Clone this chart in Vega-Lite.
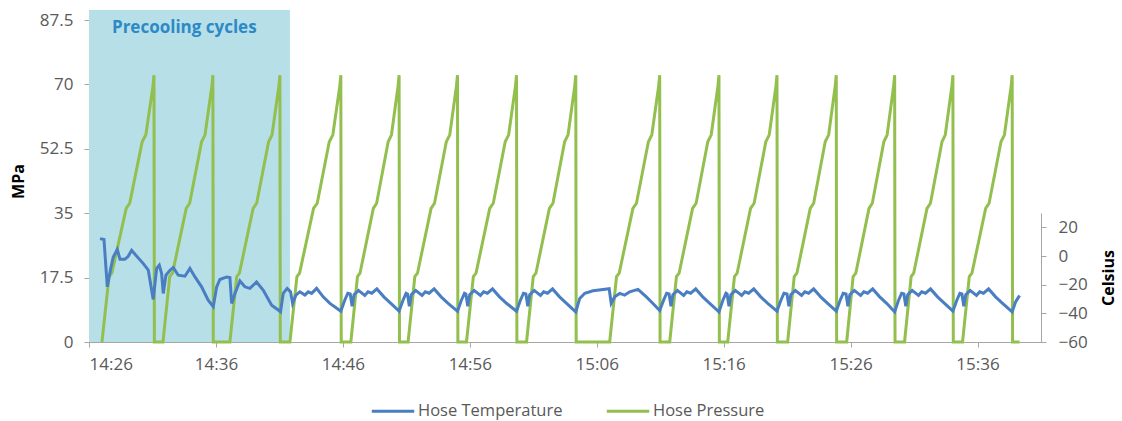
{
  "$schema": "https://vega.github.io/schema/vega-lite/v6.json",
  "width": 952,
  "height": 322,
  "autosize": {"type": "none"},
  "padding": {"left": 89, "top": 20, "right": 81, "bottom": 79},
  "config": {
    "view": {"stroke": null},
    "font": "Open Sans",
    "axis": {
      "grid": false,
      "domainColor": "#A6A6A6",
      "tickColor": "#A6A6A6",
      "labelColor": "#595959",
      "labelFontSize": 17,
      "labelFont": "Open Sans",
      "titleFont": "Open Sans",
      "titleFontSize": 16,
      "titleFontWeight": "bold",
      "titleColor": "#000000",
      "tickSize": 5
    }
  },
  "datasets": {
    "shade": [
      {"start": 26, "end": 41.83, "top": 90.2, "bottom": 0, "label": "Precooling cycles", "lx": 27.81, "ly": 85.3}
    ],
    "pressure": [
      {"minute": 27.02, "mpa": 0}, {"minute": 27.58, "mpa": 17.8}, {"minute": 27.80, "mpa": 18.7}, {"minute": 28.93, "mpa": 36.3}, {"minute": 29.21, "mpa": 37.7}, {"minute": 30.19, "mpa": 54.4}, {"minute": 30.48, "mpa": 56.3}, {"minute": 31.04, "mpa": 69.6}, {"minute": 31.12, "mpa": 72.5}, {"minute": 31.15, "mpa": 0},
      {"minute": 31.83, "mpa": 0}, {"minute": 32.36, "mpa": 17.8}, {"minute": 32.58, "mpa": 18.7}, {"minute": 33.66, "mpa": 36.3}, {"minute": 33.93, "mpa": 37.7}, {"minute": 34.87, "mpa": 54.4}, {"minute": 35.14, "mpa": 56.3}, {"minute": 35.68, "mpa": 69.6}, {"minute": 35.76, "mpa": 72.5}, {"minute": 35.79, "mpa": 0},
      {"minute": 37.10, "mpa": 0}, {"minute": 37.64, "mpa": 17.8}, {"minute": 37.85, "mpa": 18.7}, {"minute": 38.93, "mpa": 36.3}, {"minute": 39.21, "mpa": 37.7}, {"minute": 40.15, "mpa": 54.4}, {"minute": 40.42, "mpa": 56.3}, {"minute": 40.96, "mpa": 69.6}, {"minute": 41.04, "mpa": 72.5}, {"minute": 41.07, "mpa": 0},
      {"minute": 41.83, "mpa": 0}, {"minute": 42.38, "mpa": 17.8}, {"minute": 42.59, "mpa": 18.7}, {"minute": 43.69, "mpa": 36.3}, {"minute": 43.98, "mpa": 37.7}, {"minute": 44.93, "mpa": 54.4}, {"minute": 45.21, "mpa": 56.3}, {"minute": 45.76, "mpa": 69.6}, {"minute": 45.84, "mpa": 72.5}, {"minute": 45.87, "mpa": 0},
      {"minute": 46.63, "mpa": 0}, {"minute": 47.15, "mpa": 17.8}, {"minute": 47.35, "mpa": 18.7}, {"minute": 48.40, "mpa": 36.3}, {"minute": 48.66, "mpa": 37.7}, {"minute": 49.57, "mpa": 54.4}, {"minute": 49.83, "mpa": 56.3}, {"minute": 50.35, "mpa": 69.6}, {"minute": 50.43, "mpa": 72.5}, {"minute": 50.46, "mpa": 0},
      {"minute": 51.14, "mpa": 0}, {"minute": 51.67, "mpa": 17.8}, {"minute": 51.88, "mpa": 18.7}, {"minute": 52.95, "mpa": 36.3}, {"minute": 53.22, "mpa": 37.7}, {"minute": 54.15, "mpa": 54.4}, {"minute": 54.42, "mpa": 56.3}, {"minute": 54.95, "mpa": 69.6}, {"minute": 55.03, "mpa": 72.5}, {"minute": 55.06, "mpa": 0},
      {"minute": 55.74, "mpa": 0}, {"minute": 56.28, "mpa": 17.8}, {"minute": 56.49, "mpa": 18.7}, {"minute": 57.57, "mpa": 36.3}, {"minute": 57.85, "mpa": 37.7}, {"minute": 58.79, "mpa": 54.4}, {"minute": 59.06, "mpa": 56.3}, {"minute": 59.60, "mpa": 69.6}, {"minute": 59.68, "mpa": 72.5}, {"minute": 59.71, "mpa": 0},
      {"minute": 60.47, "mpa": 0}, {"minute": 61.00, "mpa": 17.8}, {"minute": 61.21, "mpa": 18.7}, {"minute": 62.27, "mpa": 36.3}, {"minute": 62.55, "mpa": 37.7}, {"minute": 63.47, "mpa": 54.4}, {"minute": 63.74, "mpa": 56.3}, {"minute": 64.27, "mpa": 69.6}, {"minute": 64.35, "mpa": 72.5}, {"minute": 64.38, "mpa": 0},
      {"minute": 67.02, "mpa": 0}, {"minute": 67.56, "mpa": 17.8}, {"minute": 67.77, "mpa": 18.7}, {"minute": 68.85, "mpa": 36.3}, {"minute": 69.13, "mpa": 37.7}, {"minute": 70.07, "mpa": 54.4}, {"minute": 70.34, "mpa": 56.3}, {"minute": 70.88, "mpa": 69.6}, {"minute": 70.96, "mpa": 72.5}, {"minute": 70.99, "mpa": 0},
      {"minute": 71.75, "mpa": 0}, {"minute": 72.28, "mpa": 17.8}, {"minute": 72.49, "mpa": 18.7}, {"minute": 73.55, "mpa": 36.3}, {"minute": 73.83, "mpa": 37.7}, {"minute": 74.75, "mpa": 54.4}, {"minute": 75.02, "mpa": 56.3}, {"minute": 75.55, "mpa": 69.6}, {"minute": 75.63, "mpa": 72.5}, {"minute": 75.66, "mpa": 0},
      {"minute": 76.32, "mpa": 0}, {"minute": 76.85, "mpa": 17.8}, {"minute": 77.06, "mpa": 18.7}, {"minute": 78.12, "mpa": 36.3}, {"minute": 78.40, "mpa": 37.7}, {"minute": 79.32, "mpa": 54.4}, {"minute": 79.59, "mpa": 56.3}, {"minute": 80.12, "mpa": 69.6}, {"minute": 80.20, "mpa": 72.5}, {"minute": 80.23, "mpa": 0},
      {"minute": 81.04, "mpa": 0}, {"minute": 81.56, "mpa": 17.8}, {"minute": 81.77, "mpa": 18.7}, {"minute": 82.82, "mpa": 36.3}, {"minute": 83.09, "mpa": 37.7}, {"minute": 84.00, "mpa": 54.4}, {"minute": 84.27, "mpa": 56.3}, {"minute": 84.79, "mpa": 69.6}, {"minute": 84.87, "mpa": 72.5}, {"minute": 84.90, "mpa": 0},
      {"minute": 85.69, "mpa": 0}, {"minute": 86.20, "mpa": 17.8}, {"minute": 86.41, "mpa": 18.7}, {"minute": 87.45, "mpa": 36.3}, {"minute": 87.71, "mpa": 37.7}, {"minute": 88.62, "mpa": 54.4}, {"minute": 88.88, "mpa": 56.3}, {"minute": 89.39, "mpa": 69.6}, {"minute": 89.47, "mpa": 72.5}, {"minute": 89.50, "mpa": 0},
      {"minute": 90.25, "mpa": 0}, {"minute": 90.77, "mpa": 17.8}, {"minute": 90.97, "mpa": 18.7}, {"minute": 92.02, "mpa": 36.3}, {"minute": 92.29, "mpa": 37.7}, {"minute": 93.20, "mpa": 54.4}, {"minute": 93.46, "mpa": 56.3}, {"minute": 93.98, "mpa": 69.6}, {"minute": 94.06, "mpa": 72.5}, {"minute": 94.09, "mpa": 0},
      {"minute": 94.82, "mpa": 0}, {"minute": 95.35, "mpa": 17.8}, {"minute": 95.56, "mpa": 18.7}, {"minute": 96.64, "mpa": 36.3}, {"minute": 96.91, "mpa": 37.7}, {"minute": 97.85, "mpa": 54.4}, {"minute": 98.12, "mpa": 56.3}, {"minute": 98.65, "mpa": 69.6}, {"minute": 98.73, "mpa": 72.5}, {"minute": 98.76, "mpa": 0},
      {"minute": 99.31, "mpa": 0}
    ],
    "temperature": [
      {"minute": 26.87, "celsius": 12.1}, {"minute": 27.18, "celsius": 11.5}, {"minute": 27.44, "celsius": -21.5}, {"minute": 27.71, "celsius": -8.7}, {"minute": 27.91, "celsius": -0.7}, {"minute": 28.23, "celsius": 4.5}, {"minute": 28.44, "celsius": -2.3}, {"minute": 28.83, "celsius": -2.3}, {"minute": 29.09, "celsius": -0.2}, {"minute": 29.36, "celsius": 4.0}, {"minute": 29.76, "celsius": -0.2}, {"minute": 30.28, "celsius": -5.3}, {"minute": 30.67, "celsius": -9.9}, {"minute": 31.06, "celsius": -30.3},
      {"minute": 31.33, "celsius": -8.7}, {"minute": 31.54, "celsius": -6.4}, {"minute": 31.72, "celsius": -12.2}, {"minute": 31.85, "celsius": -26.1}, {"minute": 32.06, "celsius": -13.4}, {"minute": 32.38, "celsius": -9.9}, {"minute": 32.64, "celsius": -8}, {"minute": 33.03, "celsius": -13.4}, {"minute": 33.56, "celsius": -14.1}, {"minute": 33.95, "celsius": -8.7}, {"minute": 34.35, "celsius": -14.6}, {"minute": 34.87, "celsius": -21.5}, {"minute": 35.39, "celsius": -30.8}, {"minute": 35.79, "celsius": -35.4},
      {"minute": 36.06, "celsius": -21.5}, {"minute": 36.31, "celsius": -16.4}, {"minute": 36.84, "celsius": -14.6}, {"minute": 37.10, "celsius": -15.0}, {"minute": 37.24, "celsius": -33.1}, {"minute": 37.50, "celsius": -26.1}, {"minute": 37.89, "celsius": -17.4}, {"minute": 38.28, "celsius": -21.5}, {"minute": 38.68, "celsius": -22.6}, {"minute": 39.20, "celsius": -18.1}, {"minute": 39.72, "celsius": -23.8}, {"minute": 40.39, "celsius": -34.3}, {"minute": 40.91, "celsius": -37.7}, {"minute": 41.09, "celsius": -38.9},
      {"minute": 41.30, "celsius": -26.1}, {"minute": 41.61, "celsius": -22.6}, {"minute": 41.88, "celsius": -25}, {"minute": 42.04, "celsius": -33.1}, {"minute": 42.30, "celsius": -27.3}, {"minute": 42.61, "celsius": -25}, {"minute": 43.01, "celsius": -27.3}, {"minute": 43.27, "celsius": -25}, {"minute": 43.54, "celsius": -26.1}, {"minute": 43.93, "celsius": -22.6}, {"minute": 44.45, "celsius": -28.5}, {"minute": 44.98, "celsius": -33.1}, {"minute": 45.71, "celsius": -37.7}, {"minute": 45.84, "celsius": -38.5},
      {"minute": 46.14, "celsius": -31}, {"minute": 46.39, "celsius": -26}, {"minute": 46.58, "celsius": -26.5}, {"minute": 46.73, "celsius": -35}, {"minute": 46.88, "celsius": -27}, {"minute": 47.23, "celsius": -24}, {"minute": 47.73, "celsius": -27.5}, {"minute": 47.98, "celsius": -25}, {"minute": 48.28, "celsius": -26}, {"minute": 48.68, "celsius": -23}, {"minute": 49.23, "celsius": -28.5}, {"minute": 49.78, "celsius": -33}, {"minute": 50.43, "celsius": -38.5},
      {"minute": 50.73, "celsius": -31}, {"minute": 50.98, "celsius": -26}, {"minute": 51.09, "celsius": -26.5}, {"minute": 51.24, "celsius": -35}, {"minute": 51.39, "celsius": -27}, {"minute": 51.74, "celsius": -24}, {"minute": 52.24, "celsius": -27.5}, {"minute": 52.49, "celsius": -25}, {"minute": 52.79, "celsius": -26}, {"minute": 53.19, "celsius": -23}, {"minute": 53.74, "celsius": -28.5}, {"minute": 54.29, "celsius": -33}, {"minute": 55.03, "celsius": -38.5},
      {"minute": 55.33, "celsius": -31}, {"minute": 55.58, "celsius": -26}, {"minute": 55.69, "celsius": -26.5}, {"minute": 55.84, "celsius": -35}, {"minute": 55.99, "celsius": -27}, {"minute": 56.34, "celsius": -24}, {"minute": 56.84, "celsius": -27.5}, {"minute": 57.09, "celsius": -25}, {"minute": 57.39, "celsius": -26}, {"minute": 57.79, "celsius": -23}, {"minute": 58.34, "celsius": -28.5}, {"minute": 58.89, "celsius": -33}, {"minute": 59.68, "celsius": -38.5},
      {"minute": 59.98, "celsius": -31}, {"minute": 60.23, "celsius": -26}, {"minute": 60.42, "celsius": -26.5}, {"minute": 60.57, "celsius": -35}, {"minute": 60.72, "celsius": -27}, {"minute": 61.07, "celsius": -24}, {"minute": 61.57, "celsius": -27.5}, {"minute": 61.82, "celsius": -25}, {"minute": 62.12, "celsius": -26}, {"minute": 62.52, "celsius": -23}, {"minute": 63.07, "celsius": -28.5}, {"minute": 63.62, "celsius": -33}, {"minute": 64.35, "celsius": -39},
      {"minute": 64.66, "celsius": -29.6}, {"minute": 65.06, "celsius": -26}, {"minute": 65.71, "celsius": -24.3}, {"minute": 66.50, "celsius": -23.3}, {"minute": 66.98, "celsius": -22.8}, {"minute": 67.14, "celsius": -33},
      {"minute": 67.42, "celsius": -28.5}, {"minute": 67.81, "celsius": -26.1}, {"minute": 68.20, "celsius": -27.3}, {"minute": 68.60, "celsius": -25}, {"minute": 69.25, "celsius": -23.3}, {"minute": 69.91, "celsius": -28.5}, {"minute": 70.43, "celsius": -33.1}, {"minute": 70.96, "celsius": -38},
      {"minute": 71.26, "celsius": -31}, {"minute": 71.51, "celsius": -26}, {"minute": 71.70, "celsius": -26.5}, {"minute": 71.85, "celsius": -35}, {"minute": 72.00, "celsius": -27}, {"minute": 72.35, "celsius": -24}, {"minute": 72.85, "celsius": -27.5}, {"minute": 73.10, "celsius": -25}, {"minute": 73.40, "celsius": -26}, {"minute": 73.80, "celsius": -23}, {"minute": 74.35, "celsius": -28.5}, {"minute": 74.90, "celsius": -33}, {"minute": 75.63, "celsius": -39},
      {"minute": 75.93, "celsius": -31}, {"minute": 76.18, "celsius": -26}, {"minute": 76.27, "celsius": -26.5}, {"minute": 76.42, "celsius": -35}, {"minute": 76.57, "celsius": -27}, {"minute": 76.92, "celsius": -24}, {"minute": 77.42, "celsius": -27.5}, {"minute": 77.67, "celsius": -25}, {"minute": 77.97, "celsius": -26}, {"minute": 78.37, "celsius": -23}, {"minute": 78.92, "celsius": -28.5}, {"minute": 79.47, "celsius": -33}, {"minute": 80.20, "celsius": -38.5},
      {"minute": 80.50, "celsius": -31}, {"minute": 80.75, "celsius": -26}, {"minute": 80.99, "celsius": -26.5}, {"minute": 81.14, "celsius": -35}, {"minute": 81.29, "celsius": -27}, {"minute": 81.64, "celsius": -24}, {"minute": 82.14, "celsius": -27.5}, {"minute": 82.39, "celsius": -25}, {"minute": 82.69, "celsius": -26}, {"minute": 83.09, "celsius": -23}, {"minute": 83.64, "celsius": -28.5}, {"minute": 84.19, "celsius": -33}, {"minute": 84.87, "celsius": -38.5},
      {"minute": 85.17, "celsius": -31}, {"minute": 85.42, "celsius": -26}, {"minute": 85.64, "celsius": -26.5}, {"minute": 85.79, "celsius": -35}, {"minute": 85.94, "celsius": -27}, {"minute": 86.29, "celsius": -24}, {"minute": 86.79, "celsius": -27.5}, {"minute": 87.04, "celsius": -25}, {"minute": 87.34, "celsius": -26}, {"minute": 87.74, "celsius": -23}, {"minute": 88.29, "celsius": -28.5}, {"minute": 88.84, "celsius": -33}, {"minute": 89.47, "celsius": -39},
      {"minute": 89.77, "celsius": -31}, {"minute": 90.02, "celsius": -26}, {"minute": 90.20, "celsius": -26.5}, {"minute": 90.35, "celsius": -35}, {"minute": 90.50, "celsius": -27}, {"minute": 90.85, "celsius": -24}, {"minute": 91.35, "celsius": -27.5}, {"minute": 91.60, "celsius": -25}, {"minute": 91.90, "celsius": -26}, {"minute": 92.30, "celsius": -23}, {"minute": 92.85, "celsius": -28.5}, {"minute": 93.40, "celsius": -33}, {"minute": 94.06, "celsius": -38.5},
      {"minute": 94.36, "celsius": -31}, {"minute": 94.61, "celsius": -26}, {"minute": 94.77, "celsius": -26.5}, {"minute": 94.92, "celsius": -35}, {"minute": 95.07, "celsius": -27}, {"minute": 95.42, "celsius": -24}, {"minute": 95.92, "celsius": -27.5}, {"minute": 96.17, "celsius": -25}, {"minute": 96.47, "celsius": -26}, {"minute": 96.87, "celsius": -23}, {"minute": 97.42, "celsius": -28.5}, {"minute": 97.97, "celsius": -33}, {"minute": 98.73, "celsius": -39},
      {"minute": 99.00, "celsius": -32}, {"minute": 99.31, "celsius": -27.5}
    ]
  },
  "layer": [
    {
      "layer": [
        {
          "data": {"name": "shade"},
          "mark": {"type": "rect", "color": "#B7DFE8"},
          "encoding": {
            "x": {"field": "start", "type": "quantitative", "title": null, "scale": {"domain": [26, 101], "nice": false, "zero": false}},
            "x2": {"field": "end"},
            "y": {"field": "top", "type": "quantitative", "title": "MPa", "scale": {"domain": [0, 87.5], "nice": false, "zero": false}},
            "y2": {"field": "bottom"}
          }
        },
        {
          "data": {"name": "shade"},
          "mark": {"type": "text", "align": "left", "baseline": "middle", "fontSize": 17, "fontWeight": "bold", "font": "Open Sans", "color": "#2B8AC6"},
          "encoding": {
            "x": {"field": "lx", "type": "quantitative", "title": null},
            "y": {"field": "ly", "type": "quantitative", "title": "MPa"},
            "text": {"field": "label"}
          }
        },
        {
          "data": {"name": "pressure"},
          "mark": {"type": "line", "strokeWidth": 3, "interpolate": "linear"},
          "encoding": {
            "x": {
              "field": "minute", "type": "quantitative", "title": null,
              "scale": {"domain": [26, 101], "nice": false, "zero": false},
              "axis": {
                "values": [26, 36, 46, 56, 66, 76, 86, 96],
                "labelExpr": "datum.value < 60 ? '14:' + datum.value : '15:' + (datum.value - 60 < 10 ? '0' : '') + (datum.value - 60)",
                "labelPadding": 9,
                "tickSize": 5
              }
            },
            "y": {
              "field": "mpa", "type": "quantitative", "title": "MPa",
              "scale": {"domain": [0, 87.5], "nice": false, "zero": false},
              "axis": {
                "values": [0, 17.5, 35, 52.5, 70, 87.5],
                "labelExpr": "'' + datum.value",
                "labelPadding": 11,
                "titlePadding": 13,
                "tickSize": 5
              }
            },
            "color": {
              "datum": "Hose Pressure",
              "scale": {"domain": ["Hose Temperature", "Hose Pressure"], "range": ["#4A7EC2", "#92BF4E"]},
              "legend": {
                "title": null,
                "orient": "none",
                "direction": "horizontal",
                "legendX": 281,
                "legendY": 368,
                "padding": 0,
                "symbolType": "stroke",
                "symbolSize": 1800,
                "symbolStrokeWidth": 3,
                "labelFontSize": 16.5,
                "labelFont": "Open Sans",
                "labelColor": "#595959",
                "labelOffset": 2,
                "columnPadding": 37
              }
            }
          }
        }
      ]
    },
    {
      "data": {"name": "temperature"},
      "mark": {"type": "line", "strokeWidth": 3, "interpolate": "linear"},
      "encoding": {
        "x": {"field": "minute", "type": "quantitative", "title": null},
        "y": {
          "field": "celsius", "type": "quantitative", "title": "Celsius",
          "scale": {"domain": [-60, 30], "range": [322, 193], "nice": false, "zero": false},
          "axis": {
            "orient": "right",
            "values": [-60, -40, -20, 0, 20],
            "labelPadding": 12,
            "titlePadding": 29,
            "titleAngle": 270,
            "tickSize": 5
          }
        },
        "color": {"datum": "Hose Temperature"}
      }
    }
  ],
  "resolve": {"scale": {"y": "independent"}}
}
